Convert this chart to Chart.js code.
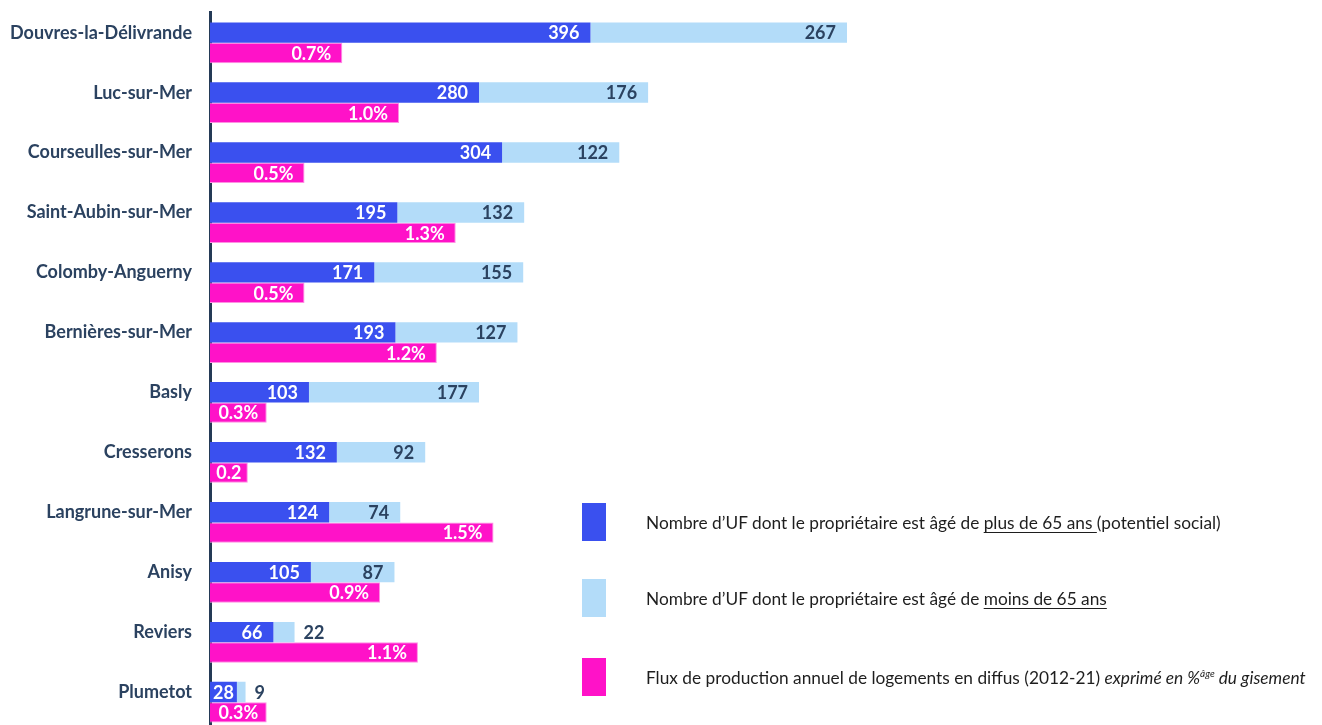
<!DOCTYPE html>
<html lang="fr">
<head>
<meta charset="utf-8">
<title>Gisement en diffus par commune</title>
<script src="https://cdn.jsdelivr.net/npm/chart.js@4"></script>
<style>
    html, body { margin: 0; padding: 0; background: #fff; overflow: hidden; }
    #wrap { position: relative; width: 1322px; height: 725px; overflow: hidden; }
    #gisementChart { position: absolute; left: 0; top: -16px; }
    #legend { position: absolute; left: 582px; top: 0; font-family: Lato, sans-serif; font-size: 17.3px; color: #1e1e1e; }
    .item { position: absolute; left: 0; display: flex; align-items: center; white-space: nowrap; }
    .swatch { display: inline-block; width: 24px; height: 38px; margin-right: 40px; }
    .item u { text-underline-offset: 3px; }
    .item sup { font-size: 10px; }
</style>
</head>
<body>
<div id="wrap">
    <canvas id="gisementChart" width="1322" height="777"></canvas>
    <div id="legend">
        <div class="item" style="top:503px"><span class="swatch" id="swPlus"></span><span>Nombre d’UF dont le propriétaire est âgé de <u>plus de 65 ans </u>(potentiel social)</span></div>
        <div class="item" style="top:579px"><span class="swatch" id="swMoins"></span><span>Nombre d’UF dont le propriétaire est âgé de <u>moins de 65 ans</u></span></div>
        <div class="item" style="top:658px"><span class="swatch" id="swFlux"></span><span>Flux de production annuel de logements en diffus (2012-21) <i>exprimé en %<sup>âge</sup> du gisement</i></span></div>
    </div>
</div>
<script>
// Communes and their values
const communes = ['Douvres-la-Délivrande', 'Luc-sur-Mer', 'Courseulles-sur-Mer', 'Saint-Aubin-sur-Mer',
    'Colomby-Anguerny', 'Bernières-sur-Mer', 'Basly', 'Cresserons', 'Langrune-sur-Mer', 'Anisy', 'Reviers', 'Plumetot'];
const ufPlus65 = [396, 280, 304, 195, 171, 193, 103, 132, 124, 105, 66, 28];
const ufMoins65 = [267, 176, 122, 132, 155, 127, 177, 92, 74, 87, 22, 9];
const fluxPct = [0.7, 1.0, 0.5, 1.3, 0.5, 1.2, 0.3, 0.2, 1.5, 0.9, 1.1, 0.3];

const BLUE = '#3a50ef';
const LIGHT_BLUE = '#b3dcf9';
const PINK = '#ff12c8';
const NAVY = '#2b4260';

document.getElementById('swPlus').style.background = BLUE;
document.getElementById('swMoins').style.background = LIGHT_BLUE;
document.getElementById('swFlux').style.background = PINK;

// Value labels at the end of each bar (inside if it fits, after the bar otherwise)
const barLabels = {
    id: 'barLabels',
    afterDatasetsDraw(chart) {
        const ctx = chart.ctx;
        const pad = 11;
        ctx.save();
        ctx.font = 'bold 18px Lato';
        ctx.textBaseline = 'middle';
        chart.data.datasets.forEach((ds, di) => {
            const meta = chart.getDatasetMeta(di);
            meta.data.forEach((bar, i) => {
                const v = ds.data[i];
                let text = ds.isPct ? v.toFixed(1) + '%' : String(v);
                const width = bar.x - bar.base;
                let w = ctx.measureText(text).width;
                if (ds.isPct && w + 4 > width) {
                    text = v.toFixed(1);
                    w = ctx.measureText(text).width;
                }
                if (w + 4 <= width) {
                    ctx.fillStyle = ds.labelColor;
                    ctx.textAlign = 'right';
                    ctx.fillText(text, bar.x - Math.min(pad, (width - w) / 2), bar.y + 1);
                } else {
                    ctx.fillStyle = NAVY;
                    ctx.textAlign = 'left';
                    ctx.fillText(text, bar.x + 9, bar.y + 1);
                }
            });
        });
        ctx.restore();
    }
};

document.addEventListener('DOMContentLoaded', function() {
    const ctx = document.getElementById('gisementChart');
    new Chart(ctx.getContext('2d'), {
        type: 'bar',
        data: {
            labels: communes,
            datasets: [{
                label: 'Plus de 65 ans',
                data: ufPlus65,
                backgroundColor: BLUE,
                xAxisID: 'xCount',
                stack: 'uf',
                labelColor: '#ffffff'
            }, {
                label: 'Moins de 65 ans',
                data: ufMoins65,
                backgroundColor: LIGHT_BLUE,
                xAxisID: 'xCount',
                stack: 'uf',
                labelColor: NAVY
            }, {
                label: 'Flux annuel',
                data: fluxPct,
                backgroundColor: PINK,
                borderColor: '#ff8fe3',
                borderWidth: 1,
                borderSkipped: 'left',
                xAxisID: 'xPct',
                stack: 'flux',
                isPct: true,
                labelColor: '#ffffff'
            }]
        },
        options: {
            indexAxis: 'y',
            responsive: false,
            animation: false,
            categoryPercentage: 0.68,
            barPercentage: 1,
            layout: { padding: { top: 11, bottom: 11, right: 10, left: 0 } },
            scales: {
                xCount: {
                    type: 'linear',
                    position: 'bottom',
                    display: false,
                    stacked: true,
                    min: 0,
                    max: 1147
                },
                xPct: {
                    type: 'linear',
                    position: 'top',
                    display: false,
                    min: 0,
                    max: 5.83
                },
                y: {
                    stacked: true,
                    afterFit: function(scale) { scale.width = 210; },
                    grid: { display: false, drawTicks: false },
                    border: { display: true, color: '#243a56', width: 3 },
                    ticks: {
                        color: NAVY,
                        padding: 18,
                        labelOffset: -10,
                        font: { family: 'Lato', size: 18, weight: 'bold' }
                    }
                }
            },
            plugins: {
                legend: { display: false },
                tooltip: { enabled: false }
            }
        },
        plugins: [barLabels]
    });
});
</script>
</body>
</html>
